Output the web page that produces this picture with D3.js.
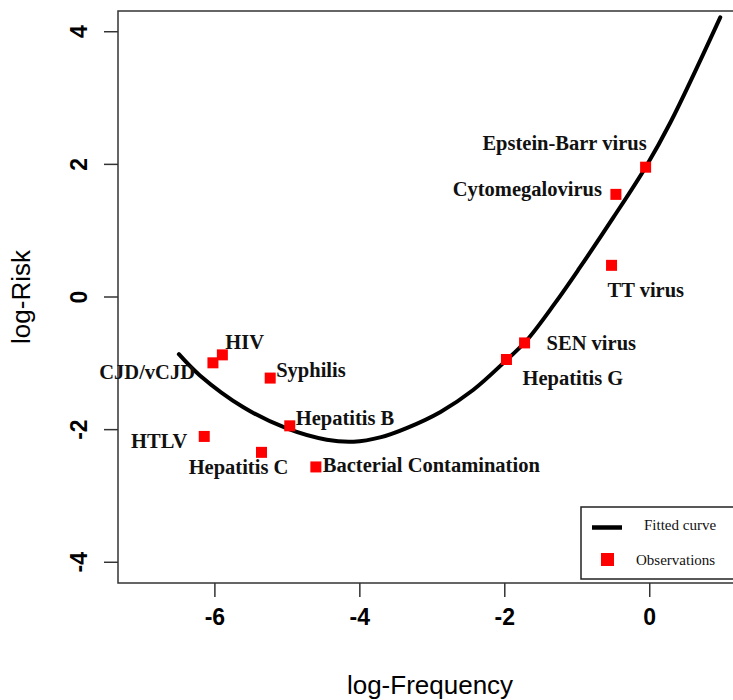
<!DOCTYPE html>
<html>
<head>
<meta charset="utf-8">
<script src="https://cdn.jsdelivr.net/npm/d3@7"></script>
<style>
    body { margin: 0; background: #fff; }
    svg { display: block; }
</style>
</head>
<body>
<div id="chart"></div>
<script>

// Data Model
var agents = ["Epstein-Barr virus", "Cytomegalovirus", "TT virus", "SEN virus", "Hepatitis G",
    "HIV", "CJD/vCJD", "Syphilis", "Hepatitis B", "HTLV", "Hepatitis C", "Bacterial Contamination"];
var logFrequency = [-0.05, -0.46, -0.52, -1.72, -1.97, -5.89, -6.02, -5.23, -4.96, -6.14, -5.35, -4.60];
var logRisk = [1.95, 1.54, 0.47, -0.70, -0.95, -0.88, -1.00, -1.23, -1.95, -2.11, -2.35, -2.57];

// fitted curve
var curveFrequency = [-6.49, -6.20, -5.60, -5.00, -4.45, -4.08, -3.70, -3.34, -2.88, -2.43, -2.00, -1.69, -1.30, -0.98, -0.49, -0.05, 0.29, 0.98];
var curveRisk = [-0.87, -1.19, -1.67, -1.99, -2.16, -2.19, -2.12, -1.98, -1.74, -1.41, -0.99, -0.66, -0.10, 0.40, 1.20, 1.95, 2.62, 4.21];

var xTicks = [-6, -4, -2, 0];
var yTicks = [-4, -2, 0, 2, 4];
var legendItems = ["Fitted curve", "Observations"];

// Dimensions
var width = 733;
var height = 700;
var margin = {top: 11, left: 118};
var plotW = 624;
var plotH = 572;

// label placement (pixels from the square)
var labelPlace = {
    "Epstein-Barr virus": {dx: 1, dy: -17, anchor: "end"},
    "Cytomegalovirus": {dx: -14, dy: 2, anchor: "end"},
    "TT virus": {dx: -4, dy: 32, anchor: "start"},
    "SEN virus": {dx: 22, dy: 7, anchor: "start"},
    "Hepatitis G": {dx: 16, dy: 25, anchor: "start"},
    "HIV": {dx: 3, dy: -6, anchor: "start"},
    "CJD/vCJD": {dx: -18, dy: 16, anchor: "end"},
    "Syphilis": {dx: 6, dy: -1, anchor: "start"},
    "Hepatitis B": {dx: 6, dy: -1, anchor: "start"},
    "HTLV": {dx: -17, dy: 12, anchor: "end"},
    "Hepatitis C": {dx: -23, dy: 22, anchor: "middle"},
    "Bacterial Contamination": {dx: 7, dy: 5, anchor: "start"}
};

var points = agents.map(function(name, i) {
    return {name: name, x: logFrequency[i], y: logRisk[i]};
});
var curve = curveFrequency.map(function(f, i) {
    return {x: f, y: curveRisk[i]};
});

//Axis
var x = d3.scaleLinear().domain([-7.33, 1.28]).range([0, plotW]);
var y = d3.scaleLinear().domain([-4.32, 4.305]).range([plotH, 0]);

var svg = d3.select("#chart").append("svg")
    .attr("width", width)
    .attr("height", height);

var g = svg.append("g")
    .attr("transform", "translate(" + margin.left + "," + margin.top + ")");

var sansFont = "'Liberation Sans', Arial, sans-serif";
var serifFont = "'Liberation Serif', 'Times New Roman', serif";

// box
g.append("rect")
    .attr("width", plotW)
    .attr("height", plotH)
    .attr("fill", "none")
    .attr("stroke", "#333")
    .attr("stroke-width", 1.5);

var xAxis = g.append("g")
    .attr("transform", "translate(0," + plotH + ")")
    .call(d3.axisBottom(x).tickValues(xTicks).tickSize(14).tickPadding(12).tickFormat(d3.format("d")));
xAxis.select(".domain").remove();
xAxis.selectAll("line").attr("stroke", "#333").attr("stroke-width", 1.5);
xAxis.selectAll("text")
    .attr("font-family", sansFont)
    .attr("font-size", 23)
    .attr("font-weight", "bold")
    .attr("fill", "#000")
    .text(function(d) { return d < 0 ? "-" + Math.abs(d) : d; });

var yAxis = g.append("g")
    .call(d3.axisLeft(y).tickValues(yTicks).tickSize(14).tickFormat(function(d) {
        return d < 0 ? "-" + Math.abs(d) : d;
    }));
yAxis.select(".domain").remove();
yAxis.selectAll("line").attr("stroke", "#333").attr("stroke-width", 1.5);
yAxis.selectAll("text")
    .attr("font-family", sansFont)
    .attr("font-size", 23)
    .attr("font-weight", "bold")
    .attr("fill", "#000")
    .attr("x", null)
    .attr("dy", null)
    .attr("text-anchor", "middle")
    .attr("transform", "translate(-31,0) rotate(-90)");

// axis titles
svg.append("text")
    .attr("x", margin.left + plotW / 2)
    .attr("y", 694)
    .attr("text-anchor", "middle")
    .attr("font-family", sansFont)
    .attr("font-size", 26)
    .attr("fill", "#000")
    .text("log-Frequency");

svg.append("text")
    .attr("transform", "translate(30," + (margin.top + plotH / 2) + ") rotate(-90)")
    .attr("text-anchor", "middle")
    .attr("font-family", sansFont)
    .attr("font-size", 26)
    .attr("fill", "#000")
    .text("log-Risk");

// fitted curve
var line = d3.line()
    .x(function(d) { return x(d.x); })
    .y(function(d) { return y(d.y); })
    .curve(d3.curveCatmullRom.alpha(0.5));

g.append("path")
    .datum(curve)
    .attr("d", line)
    .attr("fill", "none")
    .attr("stroke", "#000")
    .attr("stroke-width", 4)
    .attr("stroke-linecap", "round");

// observations
var sq = 11;
g.selectAll(".obs")
    .data(points)
    .enter().append("rect")
    .attr("class", "obs")
    .attr("x", function(d) { return x(d.x) - sq / 2; })
    .attr("y", function(d) { return y(d.y) - sq / 2; })
    .attr("width", sq)
    .attr("height", sq)
    .attr("fill", "#ff0000");

g.selectAll(".obs-label")
    .data(points)
    .enter().append("text")
    .attr("class", "obs-label")
    .attr("x", function(d) { return x(d.x) + labelPlace[d.name].dx; })
    .attr("y", function(d) { return y(d.y) + labelPlace[d.name].dy; })
    .attr("text-anchor", function(d) { return labelPlace[d.name].anchor; })
    .attr("font-family", serifFont)
    .attr("font-size", 20.5)
    .attr("font-weight", "bold")
    .attr("fill", "#111")
    .text(function(d) { return d.name; });

// legend
var legend = svg.append("g")
    .attr("transform", "translate(581,507)");

legend.append("rect")
    .attr("width", 160)
    .attr("height", 72)
    .attr("fill", "#fff")
    .attr("stroke", "#222")
    .attr("stroke-width", 1.5);

legend.append("line")
    .attr("x1", 11)
    .attr("x2", 41)
    .attr("y1", 20.5)
    .attr("y2", 20.5)
    .attr("stroke", "#000")
    .attr("stroke-width", 4.5);

legend.append("rect")
    .attr("x", 20)
    .attr("y", 46)
    .attr("width", 13)
    .attr("height", 13)
    .attr("fill", "#ff0000");

legend.selectAll(".legend-text")
    .data(legendItems)
    .enter().append("text")
    .attr("class", "legend-text")
    .attr("x", function(d, i) { return i == 0 ? 63 : 55; })
    .attr("y", function(d, i) { return i == 0 ? 23 : 58; })
    .attr("font-family", serifFont)
    .attr("font-size", 15)
    .attr("fill", "#111")
    .text(function(d) { return d; });

</script>
</body>
</html>
